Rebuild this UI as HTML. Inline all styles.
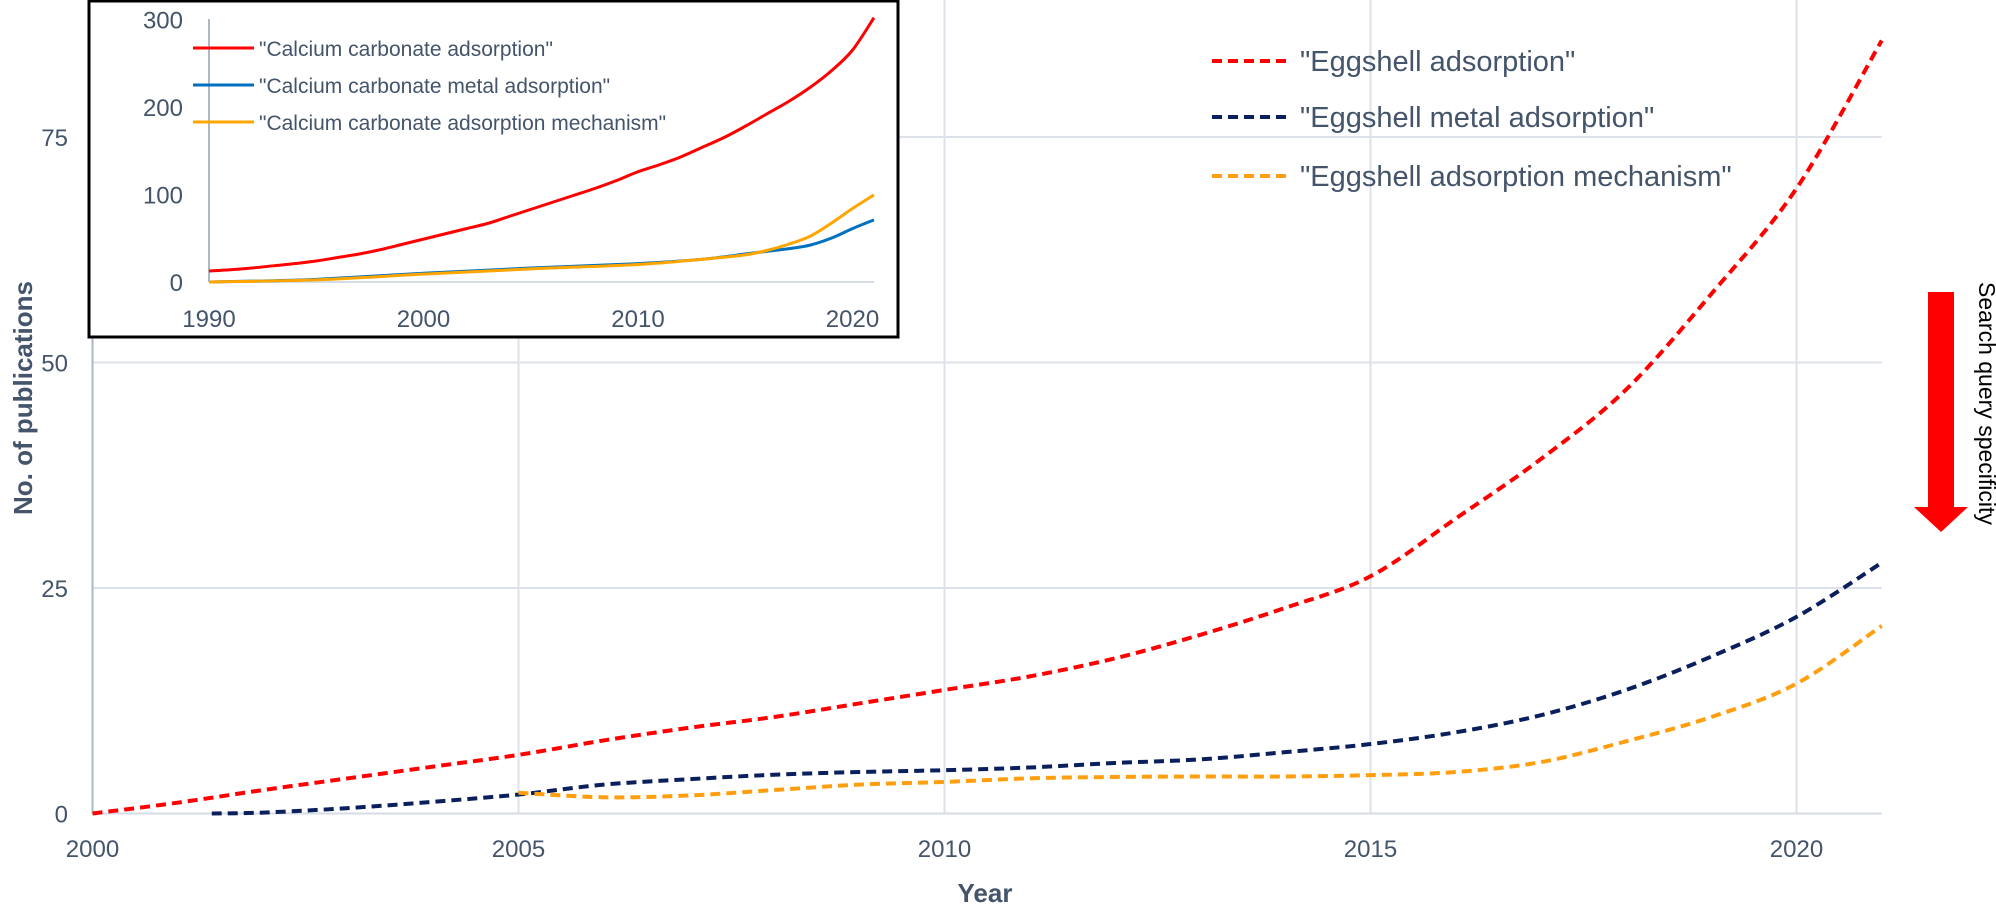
<!DOCTYPE html>
<html><head><meta charset="utf-8"><style>
body{margin:0;background:#fff;}
svg text{font-family:"Liberation Sans",sans-serif;fill:#44546A;}
</style></head><body>
<svg width="1996" height="904" viewBox="0 0 1996 904">
<g id="main"></g>
<g id="inset"></g>
<g>
<polygon points="1928,292 1954,292 1954,507 1968,507 1941,532 1914,507 1928,507" fill="#FF0000"/>
<text x="1979" y="282" font-size="23" style="fill:#000" transform="rotate(90 1979 282)">Search query specificity</text>
</g>
</svg>
<script>
const mainYears=[2000,2001,2002,2003,2004,2005,2006,2007,2008,2009,2010,2011,2012,2013,2014,2015,2016,2017,2018,2019,2020,2021];
const eggAds=[0,1.2,2.6,3.9,5.2,6.5,8.1,9.5,10.7,12.2,13.7,15.2,17.2,19.8,22.8,26.3,32.7,39.3,47,57.6,69.3,85.7];
const eggMetalYears=[2001.4,2002,2003,2004,2005,2006,2007,2008,2009,2010,2011,2012,2013,2014,2015,2016,2017,2018,2019,2020,2021];
const eggMetal=[0,0.1,0.6,1.3,2.1,3.2,3.8,4.3,4.6,4.8,5.1,5.6,6.0,6.8,7.7,9.0,10.9,13.7,17.4,21.8,27.8];
const eggMechYears=[2005,2006,2007,2008,2009,2010,2011,2012,2013,2014,2015,2016,2017,2018,2019,2020,2021];
const eggMech=[2.3,1.8,2.0,2.6,3.2,3.5,3.9,4.05,4.1,4.1,4.25,4.6,5.7,8.0,10.7,14.4,20.8];
const mainXTicks=[2000,2005,2010,2015,2020];
const mainYTicks=[0,25,50,75];
const insetYears=[1990,1991,1992,1993,1994,1995,1996,1997,1998,1999,2000,2001,2002,2003,2004,2005,2006,2007,2008,2009,2010,2011,2012,2013,2014,2015,2016,2017,2018,2019,2020,2021];
const caAds=[12.6,14,16,18.5,21,24,28,32,37,43,49,55,61,67,75,83,91,99,107,116,126,134,143,154,165,178,192,206,222,241,265,302];
const caMetalYears=[1990,1992,1995,2000,2005,2010,2013,2015,2016,2017,2018,2019,2020,2021];
const caMetal=[0,1,3,10,16,21,26,32,35,38,42,50,61,71];
const caMechYears=[1990,1995,2000,2005,2010,2013,2015,2016,2017,2018,2019,2020,2021];
const caMech=[0,2.5,9,15,20,26,31,36,43,52,67,84,99.5];
const insetXTicks=[1990,2000,2010,2020];
const insetYTicks=[0,100,200,300];

const NS='http://www.w3.org/2000/svg';
function mk(tag,attrs,parent){const e=document.createElementNS(NS,tag);for(const k in attrs)e.setAttribute(k,attrs[k]);parent.appendChild(e);return e;}
function smooth(pts){let d='M'+pts[0][0]+','+pts[0][1];for(let i=0;i<pts.length-1;i++){const p0=pts[i-1]||pts[i],p1=pts[i],p2=pts[i+1],p3=pts[i+2]||p2;const c1x=p1[0]+(p2[0]-p0[0])/6,c1y=p1[1]+(p2[1]-p0[1])/6,c2x=p2[0]-(p3[0]-p1[0])/6,c2y=p2[1]-(p3[1]-p1[1])/6;d+=' C'+c1x+','+c1y+' '+c2x+','+c2y+' '+p2[0]+','+p2[1];}return d;}

// main
const M=document.getElementById('main');
const mx=y=>92.5+(y-2000)*85.2;
const my=v=>813.5-v*9.02;
mainXTicks.forEach(t=>{const l=mk('line',{x1:mx(t),x2:mx(t),y1:my(0),y2:0,stroke:'#DDE2EA','stroke-width':2},M);


const tx=mk('text',{x:mx(t),y:857,'font-size':24,'text-anchor':'middle'},M);tx.textContent=t;

});
mainYTicks.forEach(t=>{const l=mk('line',{x1:mx(2000),x2:mx(2021),y1:my(t),y2:my(t),stroke:t===0?'#D6DCE5':'#DDE2EA','stroke-width':2},M);


const tx=mk('text',{x:68,y:my(t)+9,'font-size':24,'text-anchor':'end'},M);tx.textContent=t;

});
const ax=mk('line',{x1:mx(2000),x2:mx(2000),y1:0,y2:my(0),stroke:'#AEB7C4','stroke-width':2},M);


function series(g,xs,vs,fx,fy,color,dash,w,name){const p=mk('path',{d:smooth(xs.map((x,i)=>[fx(x),fy(vs[i])])),fill:'none',stroke:color,'stroke-width':w},g);if(dash)p.setAttribute('stroke-dasharray',dash);

}
series(M,mainYears,eggAds,mx,my,'#FF0000','10,6',4,'eggshell-adsorption-line');
series(M,eggMetalYears,eggMetal,mx,my,'#0A1F5C','10,6',4,'eggshell-metal-adsorption-line');
series(M,eggMechYears,eggMech,mx,my,'#FF9F10','10,6',4,'eggshell-adsorption-mechanism-line');
const yt=mk('text',{x:0,y:0,'font-size':26,'font-weight':'bold','text-anchor':'middle',transform:'translate(32,398) rotate(-90)'},M);yt.textContent='No. of publications';


const xt=mk('text',{x:985,y:902,'font-size':26,'font-weight':'bold','text-anchor':'middle'},M);xt.textContent='Year';


const legM=[['"Eggshell adsorption"','#FF0000',61],['"Eggshell metal adsorption"','#0A1F5C',117],['"Eggshell adsorption mechanism"','#FF9F10',176]];
legM.forEach(l=>{const g=mk('g',{},M);


mk('line',{x1:1212,x2:1286,y1:l[2],y2:l[2],stroke:l[1],'stroke-width':4,'stroke-dasharray':'10,6'},g);
const t=mk('text',{x:1300,y:l[2]+10,'font-size':29},g);t.textContent=l[0];});

// inset
const I=document.getElementById('inset');
const bg=mk('rect',{x:89,y:1,width:809,height:336,fill:'#fff',stroke:'#000','stroke-width':3},I);


const ix=y=>209+(y-1990)*21.45;
const iy=v=>282-v*0.875;
const il=mk('line',{x1:ix(1990),x2:ix(2021),y1:iy(0),y2:iy(0),stroke:'#D6DCE5','stroke-width':2},I);


const il2=mk('line',{x1:ix(1990),x2:ix(1990),y1:iy(0),y2:19,stroke:'#AEB7C4','stroke-width':2},I);


insetXTicks.forEach(t=>{const tx=mk('text',{x:ix(t),y:327,'font-size':24,'text-anchor':'middle'},I);tx.textContent=t;

});
insetYTicks.forEach(t=>{const tx=mk('text',{x:183,y:Math.max(iy(t),19)+9,'font-size':24,'text-anchor':'end'},I);tx.textContent=t;

});
series(I,insetYears,caAds,ix,iy,'#FF0000',null,3,'calcium-carbonate-adsorption-line');
series(I,caMetalYears,caMetal,ix,iy,'#0070C0',null,3,'calcium-carbonate-metal-adsorption-line');
series(I,caMechYears,caMech,ix,iy,'#FFA500',null,3,'calcium-carbonate-adsorption-mechanism-line');
const legI=[['"Calcium carbonate adsorption"','#FF0000',48],['"Calcium carbonate metal adsorption"','#0070C0',85],['"Calcium carbonate adsorption mechanism"','#FFA500',122]];
legI.forEach(l=>{const g=mk('g',{},I);


mk('line',{x1:193,x2:254,y1:l[2],y2:l[2],stroke:l[1],'stroke-width':3},g);
const t=mk('text',{x:259,y:l[2]+8,'font-size':21},g);t.textContent=l[0];});
</script>
</body></html>
